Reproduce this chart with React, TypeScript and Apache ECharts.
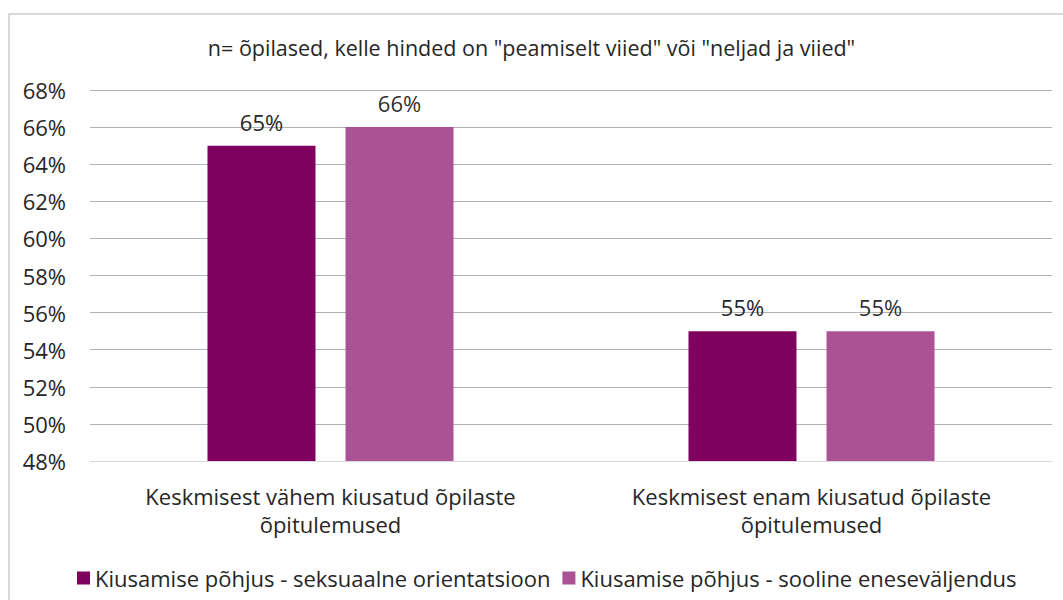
import React, { useEffect, useRef } from "react";
import * as echarts from "echarts";

const categories = [
  "Keskmisest vähem kiusatud õpilaste\nõpitulemused",
  "Keskmisest enam kiusatud õpilaste\nõpitulemused",
];
const seriesNames = [
  "Kiusamise põhjus - seksuaalne orientatsioon",
  "Kiusamise põhjus - sooline eneseväljendus",
];
const seriesA = [65, 55];
const seriesB = [66, 55];
const yTicks = { min: 48, max: 68, step: 2 };
const title = 'n= õpilased, kelle hinded on "peamiselt viied" või "neljad ja viied"';

const FONT = "'Open Sans', 'Noto Sans', sans-serif";

export default function App() {
  const ref = useRef<HTMLDivElement>(null);
  useEffect(() => {
    if (!ref.current) return;
    const chart = echarts.init(ref.current, undefined, { renderer: "svg" });
    chart.setOption({
      animation: false,
      textStyle: { fontFamily: FONT },
      title: {
        text: title,
        left: "center",
        top: 31,
        textStyle: { fontFamily: FONT, fontSize: 21.5, fontWeight: "normal", color: "#262626" },
      },
      graphic: [
        {
          type: "rect",
          shape: { x: 9, y: 14, width: 1200, height: 800 },
          style: { fill: "none", stroke: "#D9D9D9", lineWidth: 2 },
          silent: true,
        },
      ],
      legend: {
        left: 72,
        top: 562,
        itemWidth: 13,
        itemHeight: 13,
        itemGap: 12,
        icon: "rect",
        textStyle: { fontFamily: FONT, fontSize: 22, color: "#262626" },
        data: seriesNames,
      },
      grid: { left: 90, right: 11, top: 90, bottom: 139, containLabel: false },
      xAxis: {
        type: "category",
        data: categories,
        axisLine: { lineStyle: { color: "#D9D9D9", width: 1 } },
        axisTick: { show: false },
        axisLabel: {
          interval: 0,
          fontFamily: FONT,
          fontSize: 22,
          color: "#262626",
          lineHeight: 28,
          margin: 21,
        },
      },
      yAxis: {
        type: "value",
        min: yTicks.min,
        max: yTicks.max,
        interval: yTicks.step,
        axisLine: { show: false },
        axisTick: { show: false },
        splitLine: { lineStyle: { color: "#B3B3B3", width: 1 } },
        axisLabel: {
          fontFamily: FONT,
          fontSize: 22,
          color: "#262626",
          margin: 24,
          formatter: (v: number) => v + "%",
        },
      },
      series: [
        {
          name: seriesNames[0],
          type: "bar",
          data: seriesA,
          barWidth: 108,
          barGap: "27.8%",
          itemStyle: { color: "#80005F" },
          label: {
            show: true,
            position: "top",
            distance: 13,
            fontFamily: FONT,
            fontSize: 22,
            color: "#262626",
            formatter: (p: any) => p.value + "%",
          },
        },
        {
          name: seriesNames[1],
          type: "bar",
          data: seriesB,
          barWidth: 108,
          itemStyle: { color: "#A84C92", opacity: 0.97 },
          label: {
            show: true,
            position: "top",
            distance: 13,
            fontFamily: FONT,
            fontSize: 22,
            color: "#262626",
            formatter: (p: any) => p.value + "%",
          },
        },
      ],
    });
    return () => chart.dispose();
  }, []);
  return (
    <div
      ref={ref}
      style={{ position: "absolute", left: 0, top: 0, width: 1063, height: 600 }}
    />
  );
}
